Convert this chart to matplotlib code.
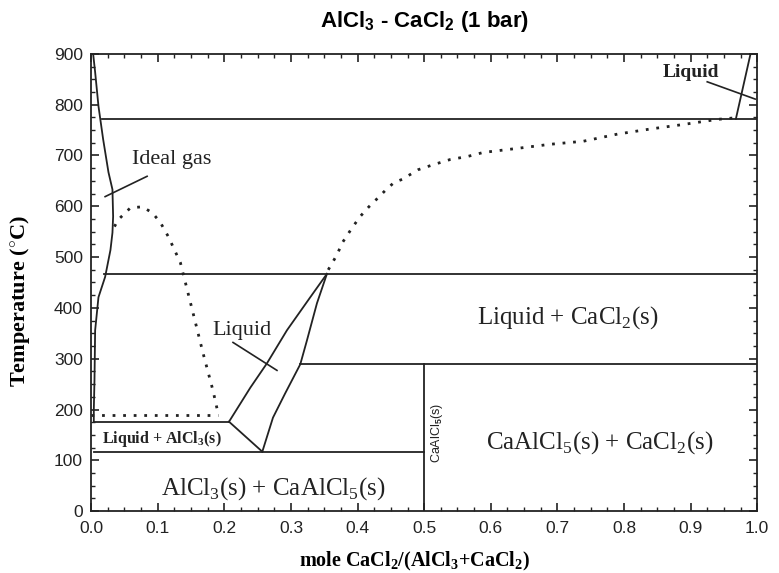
import matplotlib
matplotlib.use('Agg')
import matplotlib.pyplot as plt
from matplotlib.ticker import MultipleLocator

plt.rcParams['mathtext.fontset'] = 'custom'
plt.rcParams['mathtext.rm'] = 'Liberation Serif'
plt.rcParams['mathtext.bf'] = 'Liberation Serif:bold'
plt.rcParams['mathtext.sf'] = 'Liberation Sans:bold'

# gas / liquid boundary near pure AlCl3 (solid curve)
gas_x = [0.003, 0.006, 0.011, 0.018, 0.026, 0.032, 0.033, 0.032, 0.029, 0.021, 0.011, 0.006, 0.005, 0.004, 0.004]
gas_T = [900, 864, 797, 732, 667, 633, 580, 548, 514, 461, 421, 356, 257, 200, 176]

# metastable dotted curve (left)
dew_x = [0.035, 0.041, 0.059, 0.077, 0.092, 0.104, 0.116, 0.134, 0.153, 0.168, 0.183, 0.191]
dew_T = [560, 574, 597, 599, 587, 568, 540, 489, 390, 311, 237, 190]

# metastable dotted liquidus (right)
liq_x = [0.356, 0.368, 0.378, 0.392, 0.404, 0.417, 0.431, 0.443, 0.455, 0.467, 0.491, 0.514,
         0.539, 0.565, 0.589, 0.640, 0.689, 0.739, 0.790, 0.839, 0.889, 0.940, 0.966]
liq_T = [475, 502, 530, 558, 580, 599, 617, 633, 647, 653, 672, 682,
         692, 698, 706, 714, 722, 728, 742, 752, 761, 771, 774]

# CaAlCl5 wedge
wedge_l_x = [0.207, 0.239, 0.264, 0.294, 0.329, 0.354]
wedge_l_T = [176, 243, 291, 356, 421, 467]
wedge_r_x = [0.257, 0.273, 0.291, 0.314, 0.324, 0.339, 0.354]
wedge_r_T = [117, 184, 231, 289, 336, 409, 467]
diag_x = [0.207, 0.257]
diag_T = [176, 117]

# CaCl2 liquidus
cacl2_x = [0.968, 0.99]
cacl2_T = [772, 900]

# invariant lines: (T, x_start, x_end)
h_T = [772, 467, 289, 176, 117]
h_x0 = [0.016, 0.02, 0.314, 0.005, 0.005]
h_x1 = [1.0, 1.0, 1.0, 0.207, 0.5]
dot_T = 190
dot_x1 = 0.191
v_x = 0.5
v_T = 289

xticks = [0.0, 0.1, 0.2, 0.3, 0.4, 0.5, 0.6, 0.7, 0.8, 0.9, 1.0]
yticks = [0, 100, 200, 300, 400, 500, 600, 700, 800, 900]

fig = plt.figure(figsize=(7.79, 5.73), dpi=100)
ax = fig.add_axes([0.117, 0.108, 0.855, 0.798])

lc = '#222222'
lw = 1.3
dots = (0, (1, 2.8))

ax.plot(gas_x, gas_T, color=lc, lw=lw)
ax.plot(dew_x, dew_T, color=lc, lw=2, linestyle=dots)
ax.plot(liq_x, liq_T, color=lc, lw=2, linestyle=dots)
ax.plot([0.0, dot_x1], [dot_T, dot_T], color=lc, lw=2, linestyle=dots)
ax.plot(wedge_l_x, wedge_l_T, color=lc, lw=lw)
ax.plot(wedge_r_x, wedge_r_T, color=lc, lw=lw)
ax.plot(diag_x, diag_T, color=lc, lw=lw)
ax.plot(cacl2_x, cacl2_T, color=lc, lw=lw)
for t, a, b in zip(h_T, h_x0, h_x1):
    ax.plot([a, b], [t, t], color=lc, lw=lw)
ax.plot([v_x, v_x], [0, v_T], color=lc, lw=lw)

# pointer lines
ax.plot([0.021, 0.084], [619, 659], color=lc, lw=1.2)
ax.plot([0.213, 0.279], [332, 277], color=lc, lw=1.2)
ax.plot([0.925, 0.997], [845, 811], color=lc, lw=1.2)

serif = 'Liberation Serif'
ax.text(0.121, 692, 'Ideal gas', family=serif, fontsize=16, ha='center', va='center', color=lc)
ax.text(0.226, 356, 'Liquid', family=serif, fontsize=16, ha='center', va='center', color=lc)
ax.text(0.901, 864, 'Liquid', family=serif, fontsize=14, ha='center', va='center',
        color=lc, fontweight='bold')
ax.text(0.715, 380, 'Liquid + CaCl$_2$(s)', family=serif, fontsize=18, ha='center', va='center',
        color=lc)
ax.text(0.764, 134, 'CaAlCl$_5$(s) + CaCl$_2$(s)', family=serif, fontsize=18, ha='center', va='center',
        color=lc)
ax.text(0.274, 45, 'AlCl$_3$(s) + CaAlCl$_5$(s)', family=serif, fontsize=18, ha='center', va='center',
        color=lc)
ax.text(0.016, 142, 'Liquid + AlCl$_\\mathbf{3}$(s)', family=serif, fontsize=11.5, ha='left', va='center',
        color=lc, fontweight='bold')
ax.text(0.52, 154, 'CaAlCl$_\\mathsf{5}$(s)', family='Liberation Sans', fontsize=9, ha='center',
        va='center', rotation=90, color=lc)

ax.set_xlim(0, 1.0)
ax.set_ylim(0, 900)
ax.set_xticks(xticks)
ax.set_yticks(yticks)
ax.set_xticklabels([f'{v:.1f}' for v in xticks])
ax.xaxis.set_minor_locator(MultipleLocator(0.025))
ax.yaxis.set_minor_locator(MultipleLocator(25))
ax.tick_params(which='both', direction='in', top=True, right=True, colors=lc)
ax.tick_params(which='major', length=6, width=1.2)
ax.tick_params(which='minor', length=3, width=1)
ax.tick_params(axis='x', pad=7)
ax.tick_params(axis='y', pad=6)
for lab in ax.get_xticklabels() + ax.get_yticklabels():
    lab.set_family('Liberation Sans')
    lab.set_fontsize(12.5)
for s in ax.spines.values():
    s.set_linewidth(1.3)
    s.set_color(lc)

ax.set_ylabel('Temperature ($^{\\circ}$C)', family=serif, fontsize=16, fontweight='bold')
ax.yaxis.set_label_coords(-0.088, 0.46)
ax.set_xlabel('mole CaCl$_\\mathbf{2}$/(AlCl$_\\mathbf{3}$+CaCl$_\\mathbf{2}$)', family=serif,
              fontsize=14.5, fontweight='bold')
ax.xaxis.set_label_coords(0.485, -0.085)
ax.set_title('AlCl$_\\mathsf{3}$ - CaCl$_\\mathsf{2}$ (1 bar)', family='Liberation Sans', fontsize=16,
             fontweight='bold', pad=19)

fig.savefig('out.png', dpi=100)
